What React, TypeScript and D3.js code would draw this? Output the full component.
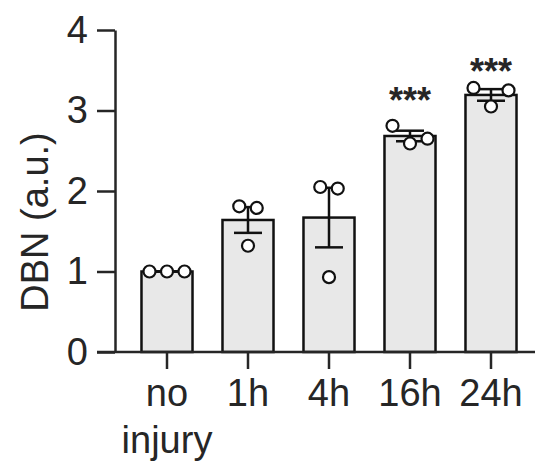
import React, { useEffect, useRef } from "react";
import * as d3 from "d3";

const categories = ["no injury", "1h", "4h", "16h", "24h"];
const noInjury = [1.0, 1.0, 1.0];
const oneHour = [1.81, 1.32, 1.79];
const fourHour = [2.05, 0.93, 2.03];
const sixteenHour = [2.81, 2.59, 2.65];
const twentyFourHour = [3.28, 3.05, 3.25];
const yTicks = [0, 1, 2, 3, 4];
const significance = ["", "", "", "***", "***"];
const sigLevel = [0, 0, 0, 3.23, 3.59];

const groups = [noInjury, oneHour, fourHour, sixteenHour, twentyFourHour];

const W = 535;
const H = 464;
const font = "'Liberation Sans', Arial, Helvetica, sans-serif";
const ink = "#262626";

function App() {
  const svgRef = useRef<SVGSVGElement | null>(null);

  useEffect(() => {
    const svg = d3.select(svgRef.current);
    svg.selectAll("*").remove();

    const y = d3.scaleLinear().domain([0, 4]).range([352, 30]);
    const x = d3
      .scaleBand<string>()
      .domain(categories)
      .range([126.5, 531.5])
      .paddingInner(0.37)
      .paddingOuter(0.185);
    const bw = x.bandwidth();
    const cx = (i: number) => (x(categories[i]) as number) + bw / 2;

    const data = groups.map((vals, i) => {
      const mean = d3.mean(vals) as number;
      const sem = (d3.deviation(vals) || 0) / Math.sqrt(vals.length);
      return { cat: categories[i], vals, mean, sem, i };
    });

    // bars
    svg
      .append("g")
      .selectAll("rect")
      .data(data)
      .join("rect")
      .attr("x", (d) => x(d.cat) as number)
      .attr("y", (d) => y(d.mean))
      .attr("width", bw)
      .attr("height", (d) => y(0) - y(d.mean))
      .attr("fill", "#e8e8e8")
      .attr("stroke", "#111")
      .attr("stroke-width", 2.5);

    // error bars
    const eb = svg.append("g").attr("stroke", "#111").attr("stroke-width", 2.5);
    data.forEach((d) => {
      const c = cx(d.i);
      eb.append("line")
        .attr("x1", c)
        .attr("x2", c)
        .attr("y1", y(d.mean - d.sem))
        .attr("y2", y(d.mean + d.sem));
      [d.mean - d.sem, d.mean + d.sem].forEach((v) => {
        eb.append("line")
          .attr("x1", c - 14)
          .attr("x2", c + 14)
          .attr("y1", y(v))
          .attr("y2", y(v));
      });
    });

    // points, arranged in rows like a scatter dot plot
    const step = 17.5;
    const pts = svg.append("g");
    data.forEach((d) => {
      const order = d3.range(d.vals.length).sort((a, b) => d.vals[b] - d.vals[a]);
      const rows: number[][] = [];
      order.forEach((idx) => {
        const last = rows[rows.length - 1];
        if (last && Math.abs(y(d.vals[last[0]]) - y(d.vals[idx])) < 20) last.push(idx);
        else rows.push([idx]);
      });
      rows.forEach((row) => {
        row.sort((a, b) => a - b);
        row.forEach((idx, k) => {
          pts
            .append("circle")
            .attr("cx", cx(d.i) + (k - (row.length - 1) / 2) * step)
            .attr("cy", y(d.vals[idx]))
            .attr("r", 6)
            .attr("fill", "#fff")
            .attr("stroke", "#111")
            .attr("stroke-width", 2.2);
        });
      });
    });

    // significance stars
    svg
      .append("g")
      .selectAll("text")
      .data(data.filter((d) => significance[d.i]))
      .join("text")
      .attr("x", (d) => cx(d.i))
      .attr("y", (d) => y(sigLevel[d.i]) + 21)
      .attr("text-anchor", "middle")
      .attr("font-family", font)
      .attr("font-weight", "bold")
      .attr("font-size", 36)
      .attr("fill", ink)
      .text((d) => significance[d.i]);

    // y axis
    const yAxis = d3
      .axisLeft(y)
      .tickValues(yTicks)
      .tickSize(18)
      .tickSizeOuter(0)
      .tickPadding(9)
      .tickFormat(d3.format("d"));
    const gy = svg.append("g").attr("transform", "translate(115,0)").call(yAxis);
    gy.select(".domain").attr("stroke", ink).attr("stroke-width", 2.5);
    gy.selectAll(".tick line").attr("stroke", ink).attr("stroke-width", 2.5);
    gy.selectAll(".tick text")
      .attr("font-family", font)
      .attr("font-size", 38)
      .attr("fill", ink);

    // x axis
    const gx = svg.append("g");
    gx.append("line")
      .attr("x1", 97)
      .attr("x2", W)
      .attr("y1", y(0))
      .attr("y2", y(0))
      .attr("stroke", ink)
      .attr("stroke-width", 2.5);
    categories.forEach((cat, i) => {
      gx.append("line")
        .attr("x1", cx(i))
        .attr("x2", cx(i))
        .attr("y1", y(0))
        .attr("y2", y(0) + 17)
        .attr("stroke", ink)
        .attr("stroke-width", 2.5);
      const t = gx
        .append("text")
        .attr("text-anchor", "middle")
        .attr("font-family", font)
        .attr("font-size", 38)
        .attr("fill", ink);
      cat.split(" ").forEach((word, k) => {
        t.append("tspan")
          .attr("x", cx(i))
          .attr("y", 406 + k * 47)
          .text(word);
      });
    });

    // y label
    svg
      .append("text")
      .attr("transform", "translate(48,222) rotate(-90)")
      .attr("text-anchor", "middle")
      .attr("font-family", font)
      .attr("font-size", 38)
      .attr("fill", ink)
      .text("DBN (a.u.)");
  }, []);

  return (
    <svg
      ref={svgRef}
      width={W}
      height={H}
      style={{ position: "absolute", left: 0, top: 0, background: "#fff" }}
    ></svg>
  );
}

export default App;
